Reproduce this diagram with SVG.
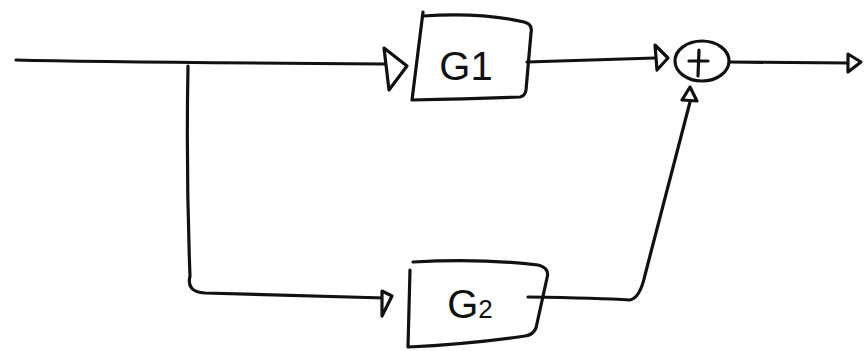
<svg xmlns="http://www.w3.org/2000/svg" width="867" height="351" viewBox="0 0 867 351">
<style>
.ln{fill:none;stroke:#111;stroke-width:3.2;stroke-linecap:round;stroke-linejoin:round}
.ah{fill:#fff;stroke:#111;stroke-width:3.2;stroke-linejoin:round}
.lbl{font-family:"Liberation Sans",sans-serif;font-size:40px;fill:#111}
</style>
<rect width="867" height="351" fill="#fff"/>
<g id="connectors">
<path class="ln" d="M16 60 Q100 62 385 64"/>
<path class="ln" d="M188 66 Q186 170 190 276 Q186 292 205 293 Q300 296 385 298"/>
<path class="ln" d="M527 62 Q600 60 655 58"/>
<path class="ln" d="M730 62 L848 63"/>
<path class="ln" d="M528 297 Q600 298 630 300 Q640 298 645 275 L690 102"/>
<path class="ah" d="M384 48 L407 66 L389 90 Z"/>
<path class="ah" d="M655 45 L668 58 L657 70 Z"/>
<path class="ah" d="M848 54 L861 62 L848 72 Z"/>
<path class="ah" d="M382 291 L392 296 L382 316 Z"/>
<path class="ah" d="M690 87 L697 101 L682 100 Z"/>
</g>
<g id="G1">
<path class="ln" d="M423 12 L412 100 Q470 99 520 97 Q525 96 526 90 L531 33 Q533 24 524 22 Q480 12 423 16"/>
<text class="lbl" x="466" y="80" text-anchor="middle">G1</text>
</g>
<g id="G2">
<path class="ln" d="M413 262 Q480 258 538 265 Q550 268 547 278 L536 328 Q533 335 525 336 Q470 344 408 347 L410 270"/>
<text class="lbl" x="470" y="318" text-anchor="middle">G<tspan font-size="26">2</tspan></text>
</g>
<g id="sum">
<ellipse class="ln" cx="702" cy="61" rx="27" ry="20"/>
<path class="ln" d="M689 61 L708 61 M699 50 L698 76"/>
</g>
</svg>
